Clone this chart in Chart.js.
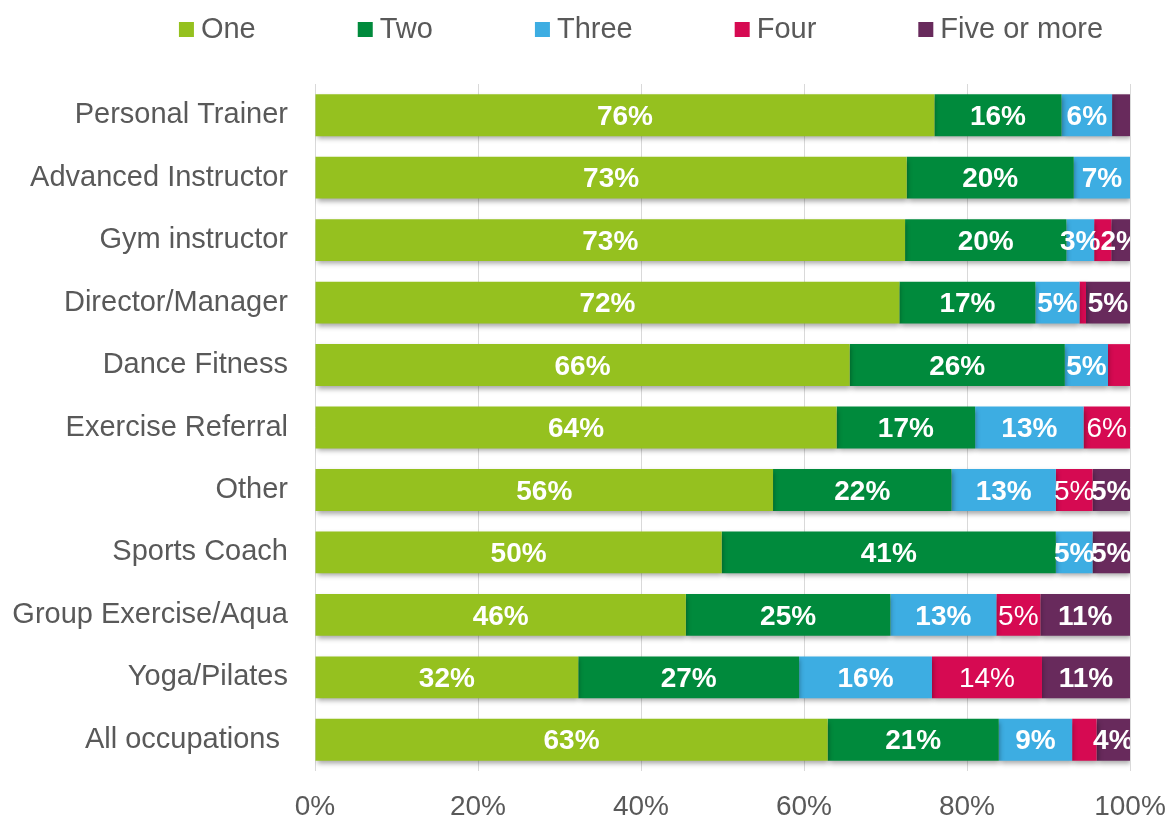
<!DOCTYPE html>
<html>
<head>
<meta charset="utf-8">
<script src="https://cdn.jsdelivr.net/npm/chart.js@4/dist/chart.umd.min.js"></script>
<style>
  body { margin: 0; background: #fff; }
  canvas { display: block; }
</style>
</head>
<body>
<canvas id="bar-chart" width="1168" height="816"></canvas>
<script>
var categories = ["Personal Trainer", "Advanced Instructor", "Gym instructor", "Director/Manager",
  "Dance Fitness", "Exercise Referral", "Other", "Sports Coach", "Group Exercise/Aqua",
  "Yoga/Pilates", "All occupations "];
var seriesNames = ["One", "Two", "Three", "Four", "Five or more"];

// share of each segment (%)
var one   = [76.0, 72.6, 72.4, 71.7, 65.6, 64.0, 56.2, 49.9, 45.5, 32.3, 62.9];
var two   = [15.6, 20.5, 19.8, 16.7, 26.4, 17.0, 21.9, 41.0, 25.1, 27.1, 21.0];
var three = [6.2, 6.9, 3.4, 5.4, 5.3, 13.3, 12.8, 4.5, 13.0, 16.3, 9.0];
var four  = [0, 0, 2.1, 0.8, 2.7, 5.7, 4.5, 0, 5.4, 13.5, 3.0];
var five  = [2.2, 0, 2.3, 5.4, 0, 0, 4.6, 4.6, 11.0, 10.8, 4.1];

// printed labels (null = none shown)
var oneLabels   = ["76%", "73%", "73%", "72%", "66%", "64%", "56%", "50%", "46%", "32%", "63%"];
var twoLabels   = ["16%", "20%", "20%", "17%", "26%", "17%", "22%", "41%", "25%", "27%", "21%"];
var threeLabels = ["6%", "7%", "3%", "5%", "5%", "13%", "13%", "5%", "13%", "16%", "9%"];
var fourLabels  = [null, null, null, null, null, "6%", "5%", null, "5%", "14%", null];
var fiveLabels  = [null, null, "2%", "5%", null, null, "5%", "5%", "11%", "11%", "4%"];

var xTicks = [0, 20, 40, 60, 80, 100];

var colors = ["#95C11F", "#008A3C", "#3DADE2", "#D60A52", "#682A5C"];
var values = [one, two, three, four, five];
var labelSets = [oneLabels, twoLabels, threeLabels, fourLabels, fiveLabels];
var boldLabels = [true, true, true, false, true];

var FONT = '"Liberation Sans", Arial, sans-serif';
Chart.defaults.font.family = FONT;
Chart.defaults.color = "#595959";

var barLabels = {
  id: "barLabels",
  beforeDatasetsDraw: function(chart) {
    var ctx = chart.ctx;
    ctx.save();
    ctx.shadowColor = "rgba(0,0,0,0.35)";
    ctx.shadowBlur = 5;
    ctx.shadowOffsetX = 1;
    ctx.shadowOffsetY = 3;
  },
  afterDatasetsDraw: function(chart) {
    var ctx = chart.ctx;
    ctx.restore();
    var a = chart.chartArea;
    ctx.save();
    ctx.beginPath();
    ctx.rect(a.left, a.top - 5, a.right - a.left, a.bottom - a.top + 10);
    ctx.clip();
    ctx.fillStyle = "#fff";
    ctx.textAlign = "center";
    ctx.textBaseline = "middle";
    chart.data.datasets.forEach(function(ds, i) {
      var meta = chart.getDatasetMeta(i);
      ctx.font = (boldLabels[i] ? "bold " : "") + "28px " + FONT;
      meta.data.forEach(function(bar, j) {
        var t = labelSets[i][j];
        if (!t) return;
        ctx.fillText(t, (bar.x + bar.base) / 2, bar.y + 2);
      });
    });
    ctx.restore();
  }
};

var topLegend = {
  id: "topLegend",
  afterDraw: function(chart) {
    var ctx = chart.ctx;
    ctx.save();
    ctx.font = "29px " + FONT;
    ctx.textBaseline = "middle";
    var box = 15, gap = 7, spacing = 102, y = 29;
    var widths = seriesNames.map(function(n) { return ctx.measureText(n).width; });
    var total = widths.reduce(function(s, w) { return s + box + gap + w; }, 0) + spacing * (seriesNames.length - 1);
    var x = 641 - total / 2;
    seriesNames.forEach(function(n, i) {
      ctx.fillStyle = colors[i];
      ctx.fillRect(x, y - 7, box, box);
      ctx.fillStyle = "#595959";
      ctx.fillText(n, x + box + gap, y + 1);
      x += box + gap + widths[i] + spacing;
    });
    ctx.restore();
  }
};

new Chart(document.getElementById("bar-chart"), {
  type: "bar",
  data: {
    labels: categories,
    datasets: seriesNames.map(function(name, i) {
      return {
        label: name,
        data: values[i],
        backgroundColor: colors[i],
        borderWidth: 0,
        barPercentage: 0.67,
        categoryPercentage: 1
      };
    })
  },
  options: {
    indexAxis: "y",
    responsive: false,
    animation: false,
    layout: { padding: { top: 84, left: 0, right: 0, bottom: 0 } },
    plugins: {
      legend: { display: false },
      tooltip: { enabled: false }
    },
    scales: {
      x: {
        stacked: true,
        min: 0,
        max: 100,
        afterBuildTicks: function(scale) {
          scale.ticks = xTicks.map(function(v) { return { value: v }; });
        },
        afterFit: function(scale) {
          scale.height = 45;
          scale.paddingRight = 38;
          scale.paddingLeft = 0;
        },
        ticks: {
          callback: function(v) { return v + "%"; },
          font: { size: 28, lineHeight: 1 },
          padding: 22,
          color: "#595959",
          maxRotation: 0
        },
        grid: { color: "#D9D9D9", drawTicks: false },
        border: { display: false }
      },
      y: {
        stacked: true,
        afterFit: function(scale) { scale.width = 315; },
        ticks: {
          font: { size: 29 },
          padding: 27,
          color: "#595959"
        },
        grid: { display: false, drawTicks: false },
        border: { display: false }
      }
    }
  },
  plugins: [barLabels, topLegend]
});
</script>
</body>
</html>
